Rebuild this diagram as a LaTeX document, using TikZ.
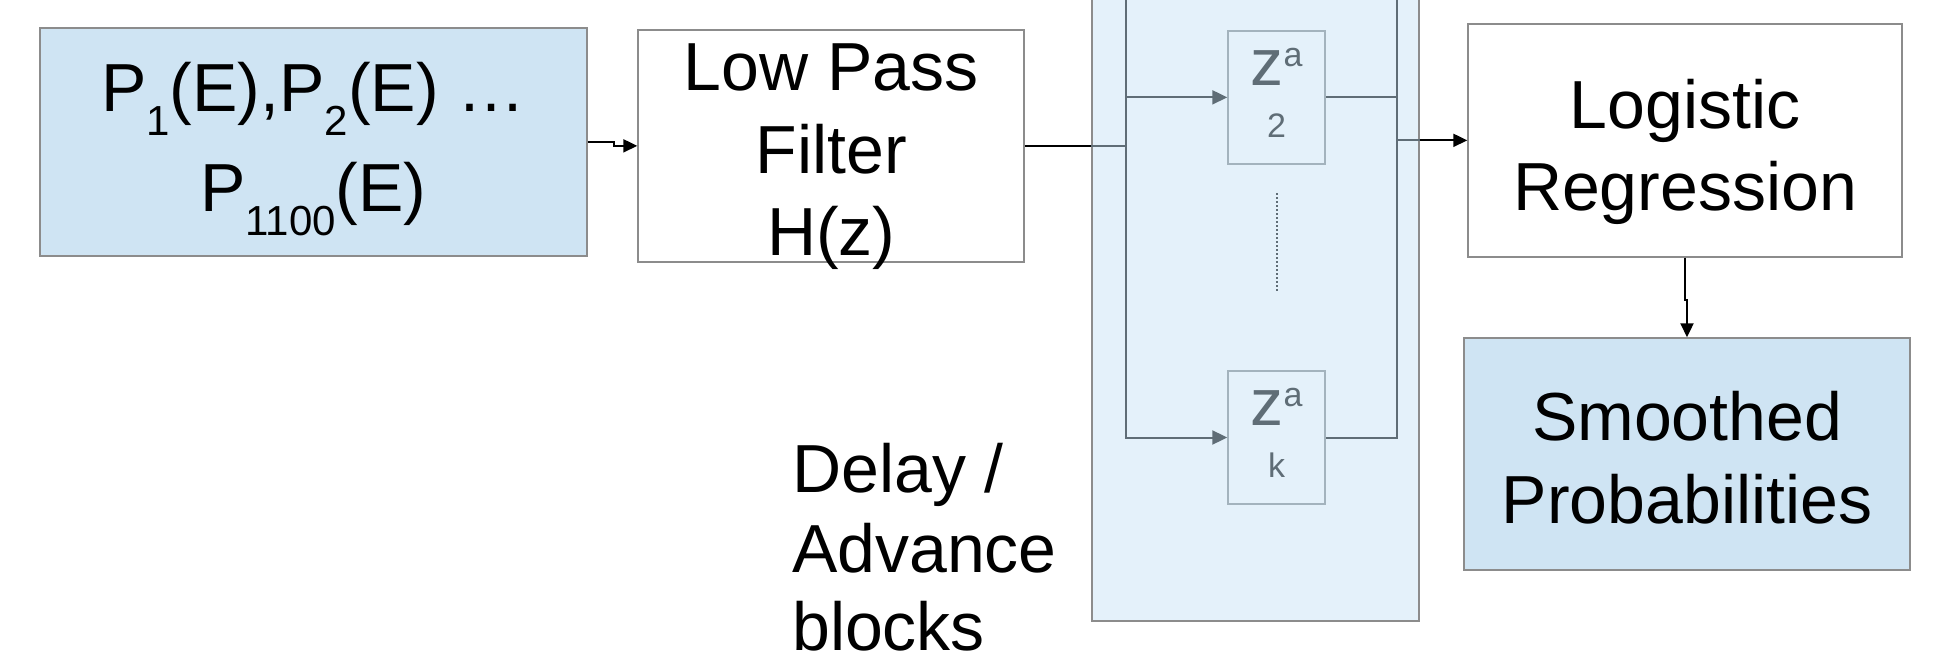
\documentclass[tikz,border=0pt]{standalone}
\usepackage{fontspec}
\setmainfont{Liberation Sans}
\usetikzlibrary{arrows.meta,calc}
\definecolor{boxblue}{HTML}{CFE4F3}
\definecolor{contblue}{HTML}{E4F1FA}
\definecolor{bordergray}{HTML}{8C8C8C}
\definecolor{zborder}{HTML}{A3B3BD}
\definecolor{zgray}{HTML}{5F6D76}
\newcommand\lowsub[1]{\raisebox{-24pt}{\fontsize{42}{42}\selectfont #1}}
\newcommand\zsym{z\raisebox{19pt}{\fontsize{34}{34}\selectfont a}}
\begin{document}
\begin{tikzpicture}[x=1pt,y=-1pt,
  box/.style={draw=bordergray, line width=2pt, rectangle, inner sep=0pt},
  zbox/.style={draw=zborder, line width=2pt, rectangle, inner sep=0pt, fill=contblue,
    minimum width=96.7pt, minimum height=133.3pt},
  txt/.style={inner sep=0pt, anchor=base, font=\fontsize{68}{68}\selectfont},
  ltxt/.style={inner sep=0pt, anchor=base west, font=\fontsize{68}{68}\selectfont},
  ztxt/.style={inner sep=0pt, anchor=base, text=zgray},
  wire/.style={draw=black, line width=2pt},
  conn/.style={draw=black, line width=2pt, -{Triangle[length=14pt,width=13pt]}},
  bus/.style={draw=zgray, line width=2pt},
  busarrow/.style={draw=zgray, line width=2pt, -{Triangle[length=15pt,width=14pt]}},
  dotline/.style={draw=zgray, line width=2pt, dash pattern=on 2pt off 2pt}]
\useasboundingbox (0,0) rectangle (1940,664);

% boxes
\node[box, fill=boxblue, minimum width=546.7pt, minimum height=227.7pt] (A) at (313.35,142.15) {};
\node[box, fill=white, minimum width=386pt, minimum height=231.7pt] (B) at (831.3,145.85) {};
\node[box, fill=contblue, minimum width=326.4pt, minimum height=632pt] (C) at (1255.5,305) {};
\node[zbox] (Z2) at (1276.65,97.35) {};
\node[zbox] (Zk) at (1276.65,437.5) {};
\node[box, fill=white, minimum width=433.4pt, minimum height=232.7pt] (L) at (1685,140.35) {};
\node[box, fill=boxblue, minimum width=446pt, minimum height=231.7pt] (S) at (1687,454.15) {};

% texts
\node[txt] (A1) at (313.35,111.7) {P\lowsub{1}(E),P\lowsub{2}(E) …};
\node[txt] (A2) at (313.35,211.7) {P\lowsub{1100}(E)};
\node[txt] (B1) at (831.3,90.7) {Low Pass};
\node[txt] (B2) at (831.3,173.3) {Filter};
\node[txt] (B3) at (831.3,255) {H(z)};
\node[ltxt] (D1) at (792,492) {Delay /};
\node[ltxt] (D2) at (792,572) {Advance};
\node[ltxt] (D3) at (792,650) {blocks};
\node[ztxt, font=\fontsize{66}{66}\selectfont] (Z2a) at (1276.65,85) {\zsym};
\node[ztxt, font=\fontsize{34}{34}\selectfont] (Z2b) at (1276.65,137) {2};
\node[ztxt, font=\fontsize{66}{66}\selectfont] (Zka) at (1276.65,425.3) {\zsym};
\node[ztxt, font=\fontsize{34}{34}\selectfont] (Zkb) at (1276.65,477.3) {k};
\node[txt] (L1) at (1685,128.3) {Logistic};
\node[txt] (L2) at (1685,210) {Regression};
\node[txt] (S1) at (1687,440) {Smoothed};
\node[txt] (S2) at (1687,523.3) {Probabilities};

% bus coordinates
\coordinate (busLtop) at (1126,-12);
\coordinate (busLbot) at (1126,437.5);
\coordinate (busRtop) at (1396.7,-12);
\coordinate (busRbot) at (1396.7,437.5);

% connectors
\draw[conn] (A.east) -- ++(26,0) |- (B.west);
\draw[wire] (B.east) -- (C.west |- B.east);
\draw[bus] (C.west |- B.east) -- (busLtop |- B.east);
\draw[busarrow] (busLtop) -- (busLbot) -- (Zk.west);
\draw[busarrow] (busLtop |- Z2.west) -- (Z2.west);
\draw[bus] (busRtop) -- (busRbot) -- (Zk.east);
\draw[bus] (Z2.east) -- (busRtop |- Z2.east);
\draw[bus] (busRtop |- L.west) -- (C.east |- L.west);
\draw[conn] (C.east |- L.west) -- (L.west);
\draw[conn] (L.south) -- ++(0,42) -| (S.north);
\draw[dotline] (1276.65,193) -- (1276.65,292);
\end{tikzpicture}
\end{document}
